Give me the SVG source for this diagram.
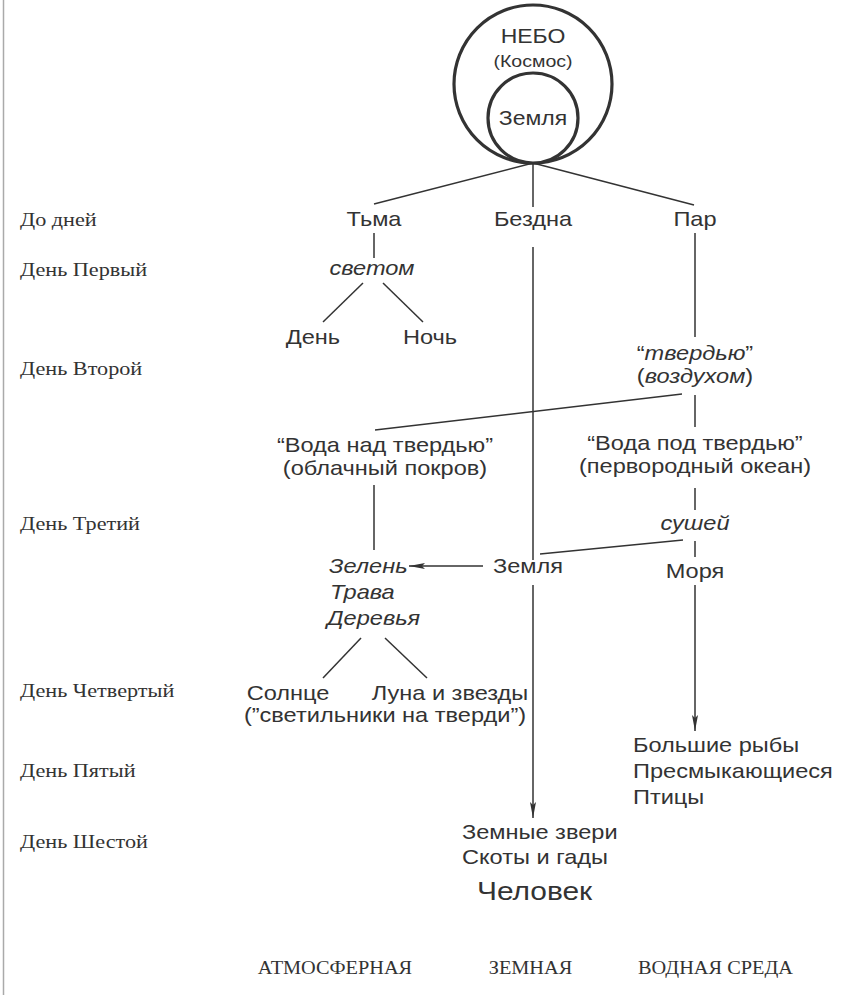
<svg xmlns="http://www.w3.org/2000/svg" width="845" height="995" viewBox="0 0 845 995">
<defs>
<style>
.t{font-family:"Liberation Sans",Arial,sans-serif;font-size:20.5px;fill:#333;text-anchor:middle}
.i{font-style:italic}
.l{text-anchor:start}
.d{font-family:"Liberation Serif","Times New Roman",serif;font-size:19px;fill:#333}
.b{font-family:"Liberation Serif","Times New Roman",serif;font-size:18px;fill:#333;text-anchor:middle}
.c{fill:none;stroke:#333;stroke-width:1.5}
.ring{fill:#fff;stroke:#333;stroke-width:3.2}
</style>
<marker id="ah" viewBox="0 0 16 6" refX="16" refY="3" markerWidth="16" markerHeight="6" markerUnits="userSpaceOnUse" orient="auto">
<path d="M0,0 L16,3 L0,6 L3,3 Z" fill="#333"/>
</marker>
</defs>
<rect width="845" height="995" fill="#fff"/>
<line x1="3.5" y1="0" x2="3.5" y2="995" stroke="#aaa" stroke-width="1.5"/>

<g id="connectors" class="c">
<line x1="533" y1="163" x2="374" y2="204"/>
<line x1="533" y1="163" x2="533" y2="207"/>
<line x1="533" y1="163" x2="694" y2="205"/>
<line x1="374" y1="233" x2="374" y2="258"/>
<line x1="363" y1="283" x2="323" y2="322"/>
<line x1="383" y1="283" x2="423" y2="322"/>
<line x1="533" y1="247" x2="533" y2="560"/>
<line x1="533" y1="585" x2="533" y2="818" marker-end="url(#ah)"/>
<line x1="695" y1="233" x2="695" y2="337"/>
<line x1="682" y1="394" x2="375" y2="430"/>
<line x1="695" y1="395" x2="695" y2="427"/>
<line x1="374" y1="485" x2="374" y2="550"/>
<line x1="695" y1="488" x2="695" y2="510"/>
<line x1="683" y1="540" x2="540" y2="554"/>
<line x1="695" y1="541" x2="695" y2="557"/>
<line x1="695" y1="585" x2="695" y2="731" marker-end="url(#ah)"/>
<line x1="483" y1="566" x2="409" y2="566" marker-end="url(#ah)"/>
<line x1="361" y1="638" x2="323" y2="678"/>
<line x1="385" y1="638" x2="427" y2="678"/>
</g>

<g id="nebo">
<circle class="ring" cx="533" cy="84" r="79"/>
<text class="t" transform="scale(1.15 1)" x="463.48" y="43" style="font-size:20px">НЕБО</text>
<text class="t" transform="scale(1.15 1)" x="463.48" y="67" style="font-size:17px">(Космос)</text>
</g>
<g id="zemlya-circle">
<circle class="ring" cx="533" cy="118" r="45"/>
<text class="t" transform="scale(1.15 1)" x="463.48" y="125" style="font-size:20px">Земля</text>
</g>

<g id="tma"><text class="t" transform="scale(1.15 1)" x="325.22" y="226">Тьма</text></g>
<g id="bezdna"><text class="t" transform="scale(1.15 1)" x="463.48" y="226">Бездна</text></g>
<g id="par"><text class="t" transform="scale(1.15 1)" x="604.35" y="226">Пар</text></g>
<g id="svetom"><text class="t i" transform="scale(1.15 1)" x="323.48" y="275">светом</text></g>
<g id="den"><text class="t" transform="scale(1.15 1)" x="272.17" y="344">День</text></g>
<g id="noch"><text class="t" transform="scale(1.15 1)" x="373.91" y="344">Ночь</text></g>
<g id="tverdyu"><text class="t" transform="scale(1.15 1)" x="604.35" y="360">“<tspan class="i">твердью</tspan>”</text>
<text class="t" transform="scale(1.15 1)" x="604.35" y="383">(<tspan class="i">воздухом</tspan>)</text></g>
<g id="voda-nad"><text class="t" transform="scale(1.15 1)" x="334.78" y="452">“Вода над твердью”</text>
<text class="t" transform="scale(1.15 1)" x="334.78" y="475">(облачный покров)</text></g>
<g id="voda-pod"><text class="t" transform="scale(1.15 1)" x="604.35" y="450">“Вода под твердью”</text>
<text class="t" transform="scale(1.15 1)" x="604.35" y="473">(первородный океан)</text></g>
<g id="sushey"><text class="t i" transform="scale(1.15 1)" x="604.35" y="530">сушей</text></g>
<g id="zemlya"><text class="t" transform="scale(1.15 1)" x="459.13" y="573">Земля</text></g>
<g id="morya"><text class="t" transform="scale(1.15 1)" x="604.35" y="578">Моря</text></g>
<g id="zelen"><text class="t i l" transform="scale(1.15 1)" x="286.09" y="573">Зелень</text>
<text class="t i l" transform="scale(1.15 1)" x="286.96" y="599">Трава</text>
<text class="t i l" transform="scale(1.15 1)" x="284.35" y="625">Деревья</text></g>
<g id="solnce"><text class="t" transform="scale(1.15 1)" x="250.43" y="700">Солнце</text></g>
<g id="luna"><text class="t" transform="scale(1.15 1)" x="391.3" y="700">Луна и звезды</text></g>
<g id="svetilniki"><text class="t" transform="scale(1.15 1)" x="334.78" y="722">(”светильники на тверди”)</text></g>
<g id="ryby"><text class="t l" transform="scale(1.15 1)" x="550.43" y="752">Большие рыбы</text>
<text class="t l" transform="scale(1.15 1)" x="550.43" y="778">Пресмыкающиеся</text>
<text class="t l" transform="scale(1.15 1)" x="550.43" y="804">Птицы</text></g>
<g id="zveri"><text class="t l" transform="scale(1.15 1)" x="401.74" y="839">Земные звери</text>
<text class="t l" transform="scale(1.15 1)" x="401.74" y="864">Скоты и гады</text>
<text class="t l" transform="scale(1.15 1)" x="414.78" y="900" style="font-size:26px">Человек</text></g>

<g id="days" transform="scale(1.17 1)">
<text class="d" x="17.09" y="226">До дней</text>
<text class="d" x="17.09" y="276">День Первый</text>
<text class="d" x="17.09" y="375">День Второй</text>
<text class="d" x="17.09" y="530">День Третий</text>
<text class="d" x="17.09" y="697">День Четвертый</text>
<text class="d" x="17.09" y="777">День Пятый</text>
<text class="d" x="17.09" y="848">День Шестой</text>
</g>
<g id="zones" transform="scale(1.13 1)">
<text class="b" x="296.46" y="974">АТМОСФЕРНАЯ</text>
<text class="b" x="469.47" y="974">ЗЕМНАЯ</text>
<text class="b" x="633.19" y="974">ВОДНАЯ СРЕДА</text>
</g>
</svg>
